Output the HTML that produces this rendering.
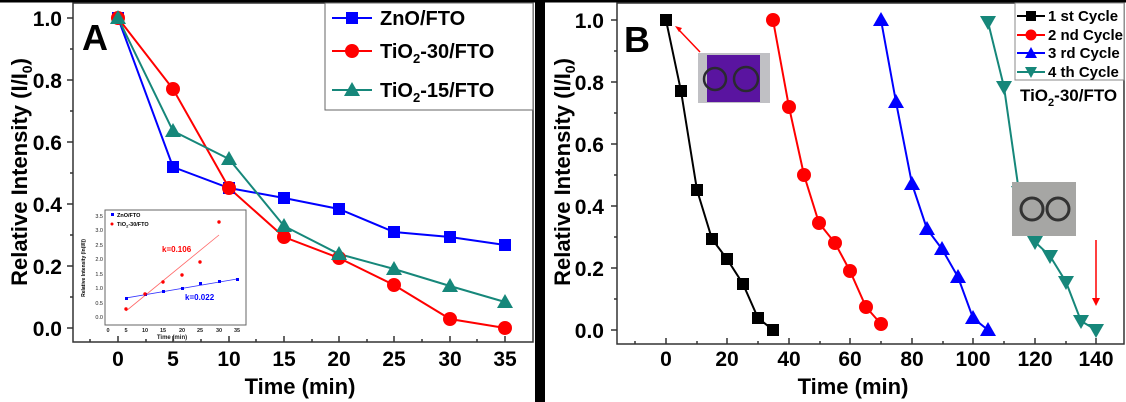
<!DOCTYPE html>
<html><head><style>body{margin:0;background:#fff}svg{display:block;font-family:"Liberation Sans",Arial,sans-serif;font-weight:bold}</style></head><body>
<svg width="1126" height="402" viewBox="0 0 1126 402" xmlns="http://www.w3.org/2000/svg">
<rect width="1126" height="402" fill="#fff"/>
<rect x="0" y="0" width="1126" height="2.5" fill="#000"/>
<rect x="535" y="0" width="10" height="402" fill="#000"/>
<!-- Panel A -->
<rect x="73" y="3" width="460" height="339" fill="none" stroke="#333" stroke-width="1.5"/>
<g stroke="#333" stroke-width="1.5">
<line x1="73" y1="18" x2="67" y2="18"/><line x1="73" y1="80" x2="67" y2="80"/><line x1="73" y1="142" x2="67" y2="142"/><line x1="73" y1="204" x2="67" y2="204"/><line x1="73" y1="266" x2="67" y2="266"/><line x1="73" y1="328" x2="67" y2="328"/>
<line x1="73" y1="49" x2="70" y2="49"/><line x1="73" y1="111" x2="70" y2="111"/><line x1="73" y1="173" x2="70" y2="173"/><line x1="73" y1="235" x2="70" y2="235"/><line x1="73" y1="297" x2="70" y2="297"/>
</g>
<g stroke="#333" stroke-width="1.5">
<line x1="118" y1="342" x2="118" y2="336"/><line x1="173" y1="342" x2="173" y2="336"/><line x1="229" y1="342" x2="229" y2="336"/><line x1="284" y1="342" x2="284" y2="336"/><line x1="339" y1="342" x2="339" y2="336"/><line x1="394" y1="342" x2="394" y2="336"/><line x1="450" y1="342" x2="450" y2="336"/><line x1="505" y1="342" x2="505" y2="336"/>
<line x1="90" y1="342" x2="90" y2="339"/><line x1="146" y1="342" x2="146" y2="339"/><line x1="201" y1="342" x2="201" y2="339"/><line x1="256" y1="342" x2="256" y2="339"/><line x1="312" y1="342" x2="312" y2="339"/><line x1="367" y1="342" x2="367" y2="339"/><line x1="422" y1="342" x2="422" y2="339"/><line x1="477" y1="342" x2="477" y2="339"/>
</g>
<g font-size="21" text-anchor="end"><text x="62" y="26">1.0</text><text x="62" y="88">0.8</text><text x="62" y="150">0.6</text><text x="62" y="212">0.4</text><text x="62" y="274">0.2</text><text x="62" y="336">0.0</text></g>
<g font-size="21" text-anchor="middle"><text x="118" y="366">0</text><text x="173" y="366">5</text><text x="229" y="366">10</text><text x="284" y="366">15</text><text x="339" y="366">20</text><text x="394" y="366">25</text><text x="450" y="366">30</text><text x="505" y="366">35</text>
<text x="300" y="394" font-size="22">Time (min)</text></g>
<text transform="translate(27,172) rotate(-90)" font-size="22" text-anchor="middle">Relative Intensity (I/I<tspan font-size="14" dy="5">0</tspan><tspan dy="-5">)</tspan></text>
<text x="82" y="50" font-size="36">A</text>
<polyline fill="none" stroke="#00f" stroke-width="2" points="118,18 173,167 229,188 284,198 339,209 394,232 450,237 505,245"/>
<polyline fill="none" stroke="#f00" stroke-width="2" points="118,18 173,89 229,188 284,237 339,258 394,285 450,319 505,328"/>
<polyline fill="none" stroke="#16877a" stroke-width="2" points="118,18 173,131 229,159 284,226 339,254 394,269 450,286 505,302"/>
<g fill="#00f"><rect x="112" y="12" width="12" height="12"/><rect x="167" y="161" width="12" height="12"/><rect x="223" y="182" width="12" height="12"/><rect x="278" y="192" width="12" height="12"/><rect x="333" y="203" width="12" height="12"/><rect x="388" y="226" width="12" height="12"/><rect x="444" y="231" width="12" height="12"/><rect x="499" y="239" width="12" height="12"/></g>
<g fill="#f00"><circle cx="118" cy="18" r="7"/><circle cx="173" cy="89" r="7"/><circle cx="229" cy="188" r="7"/><circle cx="284" cy="237" r="7"/><circle cx="339" cy="258" r="7"/><circle cx="394" cy="285" r="7"/><circle cx="450" cy="319" r="7"/><circle cx="505" cy="328" r="7"/></g>
<g fill="#16877a"><path d="M118,10 l8,14 h-16z"/><path d="M173,123 l8,14 h-16z"/><path d="M229,151 l8,14 h-16z"/><path d="M284,218 l8,14 h-16z"/><path d="M339,246 l8,14 h-16z"/><path d="M394,261 l8,14 h-16z"/><path d="M450,278 l8,14 h-16z"/><path d="M505,294 l8,14 h-16z"/></g>
<rect x="325" y="3" width="208" height="107" fill="#fff" stroke="#666" stroke-width="1"/>
<line x1="332" y1="18" x2="372" y2="18" stroke="#00f" stroke-width="2"/><rect x="346" y="12" width="12" height="12" fill="#00f"/>
<text x="380" y="25" font-size="20">ZnO/FTO</text>
<line x1="332" y1="51" x2="372" y2="51" stroke="#f00" stroke-width="2"/><circle cx="352" cy="51" r="7" fill="#f00"/>
<text x="380" y="58" font-size="20">TiO<tspan font-size="13" dy="5">2</tspan><tspan dy="-5">-30/FTO</tspan></text>
<line x1="332" y1="90" x2="372" y2="90" stroke="#16877a" stroke-width="2"/><path d="M352,82 l8,14 h-16z" fill="#16877a"/>
<text x="380" y="97" font-size="20">TiO<tspan font-size="13" dy="5">2</tspan><tspan dy="-5">-15/FTO</tspan></text>
<rect x="105" y="210" width="141" height="115" fill="#fff" stroke="#666" stroke-width="1"/>
<g font-size="5.5" text-anchor="end" font-weight="normal" fill="#222"><text x="103" y="319">0.0</text><text x="103" y="305">0.5</text><text x="103" y="290">1.0</text><text x="103" y="276">1.5</text><text x="103" y="261">2.0</text><text x="103" y="247">2.5</text><text x="103" y="232">3.0</text><text x="103" y="218">3.5</text></g>
<g font-size="5.5" text-anchor="middle" fill="#222"><text x="108" y="332">0</text><text x="126" y="332">5</text><text x="145" y="332">10</text><text x="163" y="332">15</text><text x="182" y="332">20</text><text x="200" y="332">25</text><text x="219" y="332">30</text><text x="237" y="332">35</text><text x="172" y="339" font-size="6">Time (min)</text></g>
<text transform="translate(85,268) rotate(-90)" font-size="5" text-anchor="middle">Relative Intensity (ln(I/I))</text>
<line x1="126" y1="298" x2="237" y2="279" stroke="#33f" stroke-width="0.8"/>
<line x1="126" y1="311" x2="219" y2="235" stroke="#f66" stroke-width="0.8"/>
<g fill="#00f"><rect x="125" y="297" width="3" height="3"/><rect x="144" y="293" width="3" height="3"/><rect x="162" y="290" width="3" height="3"/><rect x="181" y="287" width="3" height="3"/><rect x="199" y="282" width="3" height="3"/><rect x="218" y="280" width="3" height="3"/><rect x="236" y="278" width="3" height="3"/></g>
<g fill="#f00"><circle cx="126" cy="309" r="1.7"/><circle cx="145" cy="294" r="1.7"/><circle cx="163" cy="282" r="1.7"/><circle cx="182" cy="275" r="1.7"/><circle cx="200" cy="262" r="1.7"/><circle cx="219" cy="222" r="1.7"/></g>
<rect x="111" y="213" width="3" height="3" fill="#00f"/><text x="117" y="217" font-size="5.5">ZnO/FTO</text>
<circle cx="112" cy="224" r="1.5" fill="#f00"/><text x="117" y="226" font-size="5.5">TiO<tspan font-size="4" dy="1.5">2</tspan><tspan dy="-1.5">-30/FTO</tspan></text>
<text x="162" y="252" font-size="8" fill="#f00">k=0.106</text>
<text x="185" y="300" font-size="8" fill="#00f">k=0.022</text>
<!-- Panel B -->
<rect x="617" y="3" width="507" height="341" fill="none" stroke="#333" stroke-width="1.5"/>
<g stroke="#333" stroke-width="1.5">
<line x1="617" y1="20" x2="611" y2="20"/><line x1="617" y1="82" x2="611" y2="82"/><line x1="617" y1="144" x2="611" y2="144"/><line x1="617" y1="206" x2="611" y2="206"/><line x1="617" y1="268" x2="611" y2="268"/><line x1="617" y1="330" x2="611" y2="330"/>
<line x1="617" y1="51" x2="614" y2="51"/><line x1="617" y1="113" x2="614" y2="113"/><line x1="617" y1="175" x2="614" y2="175"/><line x1="617" y1="237" x2="614" y2="237"/><line x1="617" y1="299" x2="614" y2="299"/>
<line x1="666" y1="344" x2="666" y2="338"/><line x1="727" y1="344" x2="727" y2="338"/><line x1="789" y1="344" x2="789" y2="338"/><line x1="850" y1="344" x2="850" y2="338"/><line x1="912" y1="344" x2="912" y2="338"/><line x1="973" y1="344" x2="973" y2="338"/><line x1="1035" y1="344" x2="1035" y2="338"/><line x1="1096" y1="344" x2="1096" y2="338"/>
<line x1="635" y1="344" x2="635" y2="341"/><line x1="697" y1="344" x2="697" y2="341"/><line x1="758" y1="344" x2="758" y2="341"/><line x1="820" y1="344" x2="820" y2="341"/><line x1="881" y1="344" x2="881" y2="341"/><line x1="943" y1="344" x2="943" y2="341"/><line x1="1004" y1="344" x2="1004" y2="341"/><line x1="1066" y1="344" x2="1066" y2="341"/>
</g>
<g font-size="21" text-anchor="end"><text x="604" y="28">1.0</text><text x="604" y="90">0.8</text><text x="604" y="152">0.6</text><text x="604" y="214">0.4</text><text x="604" y="276">0.2</text><text x="604" y="338">0.0</text></g>
<g font-size="21" text-anchor="middle"><text x="666" y="366">0</text><text x="727" y="366">20</text><text x="789" y="366">40</text><text x="850" y="366">60</text><text x="912" y="366">80</text><text x="973" y="366">100</text><text x="1035" y="366">120</text><text x="1096" y="366">140</text>
<text x="853" y="394" font-size="22">Time (min)</text></g>
<text transform="translate(570,172) rotate(-90)" font-size="22" text-anchor="middle">Relative Intensity (I/I<tspan font-size="14" dy="5">0</tspan><tspan dy="-5">)</tspan></text>
<text x="624" y="52" font-size="36">B</text>
<polyline fill="none" stroke="#000" stroke-width="2" points="666,20 681,91 697,190 712,239 727,259 743,284 758,318 773,330"/>
<polyline fill="none" stroke="#f00" stroke-width="2" points="773,20 789,107 804,175 819,223 835,243 850,271 866,307 881,324"/>
<polyline fill="none" stroke="#00f" stroke-width="2" points="881,20 896,102 912,184 927,229 942,249 958,277 973,318 988,330"/>
<polyline fill="none" stroke="#16877a" stroke-width="2" points="988,22 1004,87 1019,192 1035,242 1050,256 1066,282 1081,321 1096,330"/>
<g fill="#000"><rect x="660" y="14" width="12" height="12"/><rect x="675" y="85" width="12" height="12"/><rect x="691" y="184" width="12" height="12"/><rect x="706" y="233" width="12" height="12"/><rect x="721" y="253" width="12" height="12"/><rect x="737" y="278" width="12" height="12"/><rect x="752" y="312" width="12" height="12"/><rect x="767" y="324" width="12" height="12"/></g>
<g fill="#f00"><circle cx="773" cy="20" r="7"/><circle cx="789" cy="107" r="7"/><circle cx="804" cy="175" r="7"/><circle cx="819" cy="223" r="7"/><circle cx="835" cy="243" r="7"/><circle cx="850" cy="271" r="7"/><circle cx="866" cy="307" r="7"/><circle cx="881" cy="324" r="7"/></g>
<g fill="#00f"><path d="M881,12 l8,14 h-16z"/><path d="M896,94 l8,14 h-16z"/><path d="M912,176 l8,14 h-16z"/><path d="M927,221 l8,14 h-16z"/><path d="M942,241 l8,14 h-16z"/><path d="M958,269 l8,14 h-16z"/><path d="M973,310 l8,14 h-16z"/><path d="M988,322 l8,14 h-16z"/></g>
<g fill="#16877a"><path d="M988,30 l8,-14 h-16z"/><path d="M1004,95 l8,-14 h-16z"/><path d="M1019,200 l8,-14 h-16z"/><path d="M1035,250 l8,-14 h-16z"/><path d="M1050,264 l8,-14 h-16z"/><path d="M1066,290 l8,-14 h-16z"/><path d="M1081,329 l8,-14 h-16z"/><path d="M1096,338 l8,-14 h-16z"/></g>
<!-- legend B -->
<rect x="1015" y="3" width="109" height="77" fill="#fff" stroke="#888" stroke-width="1"/>
<g font-size="15"><line x1="1017" y1="16" x2="1045" y2="16" stroke="#000" stroke-width="2"/><rect x="1026" y="11" width="10" height="10" fill="#000"/><text x="1048" y="21">1 st Cycle</text>
<line x1="1017" y1="35" x2="1045" y2="35" stroke="#f00" stroke-width="2"/><circle cx="1031" cy="35" r="5.5" fill="#f00"/><text x="1048" y="40">2 nd Cycle</text>
<line x1="1017" y1="53" x2="1045" y2="53" stroke="#00f" stroke-width="2"/><path d="M1031,47 l6,11 h-12z" fill="#00f"/><text x="1048" y="58">3 rd Cycle</text>
<line x1="1017" y1="72" x2="1045" y2="72" stroke="#16877a" stroke-width="2"/><path d="M1031,78 l6,-11 h-12z" fill="#16877a"/><text x="1048" y="77">4 th Cycle</text></g>
<text x="1020" y="101" font-size="17">TiO<tspan font-size="11" dy="5">2</tspan><tspan dy="-5">-30/FTO</tspan></text>
<!-- photos -->
<rect x="698" y="53" width="72" height="50" fill="#c0c0c4"/>
<rect x="707" y="55" width="53" height="47" fill="#5a14a0"/>
<circle cx="715" cy="79" r="11" fill="none" stroke="#2a2a30" stroke-width="2.5"/><circle cx="746" cy="79" r="12" fill="none" stroke="#2a2a30" stroke-width="2.5"/>
<line x1="700" y1="52" x2="679" y2="30" stroke="#f00" stroke-width="1.5"/><path d="M675,26 l7,2 l-3,4z" fill="#f00"/>
<rect x="1012" y="182" width="64" height="54" fill="#a6a6a4"/>
<circle cx="1032" cy="209" r="11" fill="none" stroke="#333" stroke-width="3"/><circle cx="1058" cy="209" r="11" fill="none" stroke="#333" stroke-width="3"/>
<line x1="1096" y1="240" x2="1096" y2="300" stroke="#f00" stroke-width="1.5"/><path d="M1092,298 h8 l-4,8z" fill="#f00"/>
</svg>
</body></html>
